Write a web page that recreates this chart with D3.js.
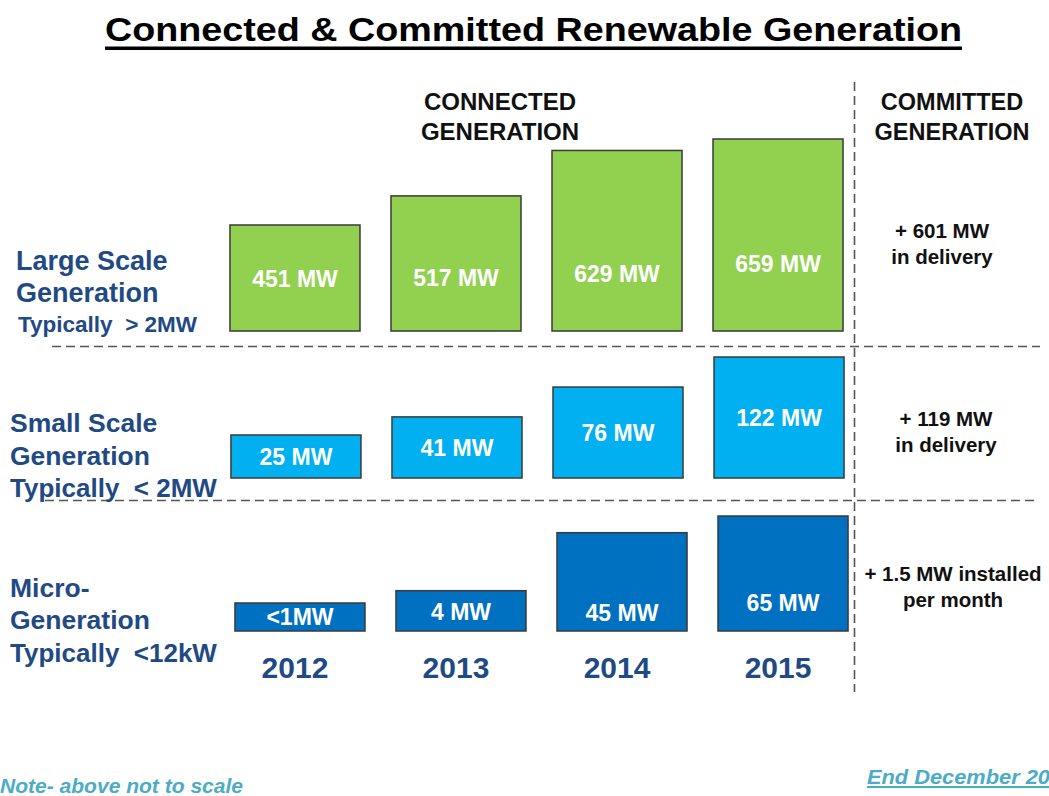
<!DOCTYPE html>
<html>
<head>
<meta charset="utf-8">
<script src="https://cdn.jsdelivr.net/npm/d3@7"></script>
<style>
  html, body { margin: 0; padding: 0; background: #ffffff; }
  svg { display: block; font-family: "Liberation Sans", Arial, sans-serif; }
</style>
</head>
<body>
<svg id="chart" width="1049" height="796"></svg>
<script>
// ---------------- DATA ----------------
const years = ["2012", "2013", "2014", "2015"];
const largeValues = [451, 517, 629, 659];
const smallValues = [25, 41, 76, 122];
const microValues = [1, 4, 45, 65];
const largeLabels = ["451 MW", "517 MW", "629 MW", "659 MW"];
const smallLabels = ["25 MW", "41 MW", "76 MW", "122 MW"];
const microLabels = ["<1MW", "4 MW", "45 MW", "65 MW"];
const rowNames = [
  ["Large Scale", "Generation", "Typically  > 2MW"],
  ["Small Scale", "Generation", "Typically  < 2MW"],
  ["Micro-", "Generation", "Typically  <12kW"]
];
const committedText = [
  ["+ 601 MW", "in delivery"],
  ["+ 119 MW", "in delivery"],
  ["+ 1.5 MW installed", "per month"]
];
const titleText = "Connected  &  Committed  Renewable  Generation";
const connectedHeader = ["CONNECTED", "GENERATION"];
const committedHeader = ["COMMITTED", "GENERATION"];
const noteText = "Note- above not to scale";
const dateText = "End December 20";

// ---------------- LAYOUT (not data) ----------------
const W = 1049, H = 796;
const svg = d3.select("#chart");
const navy = "#1F4A84";

const rows = [
  { values: largeValues, labels: largeLabels, color: "#92D050", bottom: 331, hRange: [106, 192], dx: 0,
    labelOffset: [52, 53, 57, 67] },
  { values: smallValues, labels: smallLabels, color: "#00B0F0", bottom: 478, hRange: [43, 121], dx: 1,
    labelOffset: null },
  { values: microValues, labels: microLabels, color: "#0070C0", bottom: 631, hRange: [28, 115], dx: 5,
    labelOffset: [14, 19, 18, 28] }
];

const x = d3.scaleBand().domain(years).range([214.5, 858.5]).paddingInner(0.1925).paddingOuter(0.096);

// ---------------- TITLE ----------------
svg.append("text")
  .attr("x", 533.5).attr("y", 41)
  .attr("text-anchor", "middle")
  .attr("font-size", 34).attr("font-weight", "bold").attr("fill", "#000")
  .attr("textLength", 857).attr("lengthAdjust", "spacingAndGlyphs")
  .text(titleText);
svg.append("rect").attr("x", 105).attr("y", 46.5).attr("width", 857).attr("height", 3.5).attr("fill", "#000");

// ---------------- HEADERS ----------------
connectedHeader.forEach((t, i) => {
  svg.append("text").attr("x", 500).attr("y", 110 + i * 30)
    .attr("text-anchor", "middle").attr("font-size", 24).attr("font-weight", "bold").attr("fill", "#111")
    .text(t);
});
committedHeader.forEach((t, i) => {
  svg.append("text").attr("x", 952).attr("y", 110 + i * 30)
    .attr("text-anchor", "middle").attr("font-size", 23.5).attr("font-weight", "bold").attr("fill", "#111")
    .text(t);
});

// ---------------- DASHED SEPARATORS ----------------
const dashStyle = { stroke: "#555", width: 1.6, dash: "9,5" };
[[52, 1040, 346.5], [45, 1035, 500.5]].forEach(([x1, x2, y]) => {
  svg.append("line").attr("x1", x1).attr("x2", x2).attr("y1", y).attr("y2", y)
    .attr("stroke", dashStyle.stroke).attr("stroke-width", dashStyle.width).attr("stroke-dasharray", dashStyle.dash);
});
svg.append("line").attr("x1", 854.5).attr("x2", 854.5).attr("y1", 82).attr("y2", 692)
  .attr("stroke", dashStyle.stroke).attr("stroke-width", dashStyle.width).attr("stroke-dasharray", dashStyle.dash);

// ---------------- BARS ----------------
rows.forEach((row, ri) => {
  // bars are "not to scale": a square-root scale per row
  const h = d3.scaleSqrt().domain(d3.extent(row.values)).range(row.hRange);
  const g = svg.append("g").attr("transform", `translate(${row.dx},0)`);
  const data = years.map((yr, i) => ({ yr, v: row.values[i], label: row.labels[i], i }));
  g.selectAll("rect.bar").data(data).join("rect")
    .attr("class", "bar")
    .attr("x", d => x(d.yr))
    .attr("y", d => row.bottom - h(d.v))
    .attr("width", x.bandwidth())
    .attr("height", d => h(d.v))
    .attr("fill", row.color)
    .attr("stroke", "#3a3a3a").attr("stroke-width", 1.5);
  g.selectAll("text.val").data(data).join("text")
    .attr("class", "val")
    .attr("x", d => x(d.yr) + x.bandwidth() / 2)
    .attr("y", d => row.bottom - (row.labelOffset ? row.labelOffset[d.i] : h(d.v) / 2))
    .attr("dy", "0.36em")
    .attr("text-anchor", "middle")
    .attr("font-size", 23).attr("font-weight", "bold").attr("fill", "#fff")
    .text(d => d.label);
});

// ---------------- YEAR AXIS ----------------
const xAxis = d3.axisBottom(x).tickSize(0).tickPadding(0);
const ax = svg.append("g").attr("transform", "translate(0,657)").call(xAxis);
ax.select(".domain").remove();
ax.selectAll("text")
  .attr("font-size", 30).attr("font-weight", "bold").attr("fill", navy)
  .attr("font-family", "Liberation Sans, Arial, sans-serif")
  .attr("dy", "0.71em");

// ---------------- ROW LABELS ----------------
const rowLabelPos = [
  { x: [16, 16, 18], y: [270, 302, 332], size: [27, 27, 22.5] },
  { x: [10, 10, 10], y: [432, 465, 497], size: [26.5, 26.5, 26] },
  { x: [10, 10, 10], y: [597, 629, 662], size: [26.5, 26.5, 26] }
];
rowNames.forEach((lines, ri) => {
  lines.forEach((t, li) => {
    svg.append("text")
      .attr("x", rowLabelPos[ri].x[li]).attr("y", rowLabelPos[ri].y[li])
      .attr("font-size", rowLabelPos[ri].size[li]).attr("font-weight", "bold").attr("fill", navy)
      .attr("xml:space", "preserve").style("white-space", "pre")
      .text(t);
  });
});

// ---------------- COMMITTED ----------------
const committedPos = [
  { cx: 942, y: [238, 264] },
  { cx: 946, y: [426, 452] },
  { cx: 953, y: [581, 607] }
];
committedText.forEach((lines, ri) => {
  lines.forEach((t, li) => {
    svg.append("text")
      .attr("x", committedPos[ri].cx).attr("y", committedPos[ri].y[li])
      .attr("text-anchor", "middle")
      .attr("font-size", 20.5).attr("font-weight", "bold").attr("fill", "#111")
      .text(t);
  });
});

// ---------------- FOOTNOTES ----------------
svg.append("text").attr("x", 0).attr("y", 793)
  .attr("font-size", 21).attr("font-weight", "bold").attr("font-style", "italic").attr("fill", "#4BACC6")
  .attr("textLength", 243).attr("lengthAdjust", "spacingAndGlyphs")
  .text(noteText);
svg.append("text").attr("x", 867).attr("y", 784)
  .attr("font-size", 21).attr("font-weight", "bold").attr("font-style", "italic").attr("fill", "#4BACC6")
  .attr("text-decoration", "underline")
  .attr("textLength", 183).attr("lengthAdjust", "spacingAndGlyphs")
  .text(dateText);
</script>
</body>
</html>
